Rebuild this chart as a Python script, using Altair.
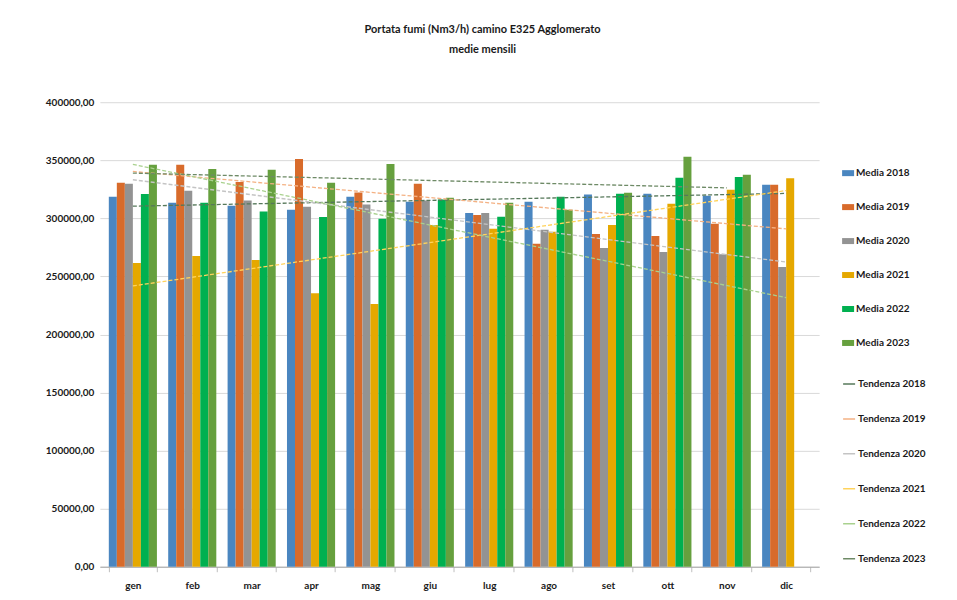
import altair as alt
import pandas as pd

months = ["gen", "feb", "mar", "apr", "mag", "giu", "lug", "ago", "set", "ott", "nov", "dic"]
years = ["2018", "2019", "2020", "2021", "2022", "2023"]

v2018 = [318500, 313400, 310800, 307400, 318500, 314200, 304500, 314200, 320600, 321200, 319500, 328900]
v2019 = [330600, 346100, 331400, 351200, 322300, 329700, 302800, 278100, 286500, 284700, 295300, 328900]
v2020 = [329700, 323700, 315400, 309900, 312000, 315400, 304500, 290200, 274400, 271000, 269000, 258100]
v2021 = [261500, 267500, 264100, 235400, 226200, 294200, 291000, 288500, 294200, 312600, 324600, 334600]
v2022 = [320900, 313400, 306000, 301100, 299600, 316300, 301400, 318500, 321200, 334900, 335700, 0]
v2023 = [346100, 342400, 341800, 330600, 346700, 317700, 313400, 307400, 322000, 353000, 337500, None]

series_values = [v2018, v2019, v2020, v2021, v2022, v2023]

bar_labels = ["Media " + y for y in years]
trend_labels = ["Tendenza " + y for y in years]
bar_colors = ["#4A86C0", "#D86B2B", "#939393", "#E5A800", "#00B050", "#66A03E"]
trend_colors = ["#56785A", "#F4B183", "#C4C4C4", "#FFD35C", "#A9D18E", "#6E8A66"]

rows = []
for y, vals in zip(years, series_values):
    for i, (m, v) in enumerate(zip(months, vals)):
        rows.append({"month": m, "idx": i + 1, "year": y,
                     "serie": "Media " + y, "trend": "Tendenza " + y, "value": v})
df = pd.DataFrame(rows)

FONT = "Lato, sans-serif"
month_expr = "[" + ",".join("'" + m + "'" for m in months) + "][datum.idx - 1]"

bars = alt.Chart(df).transform_filter("isValid(datum.value)").mark_bar().encode(
    x=alt.X("month:N", sort=months, title=None,
            scale=alt.Scale(paddingInner=0.19, paddingOuter=0.15),
            axis=alt.Axis(tickBand="extent", ticks=True, tickSize=5, tickColor="#BFBFBF",
                          domainColor="#A6A6A6", labelPadding=9, labelAngle=0, grid=False)),
    xOffset=alt.XOffset("serie:N", sort=bar_labels,
                        scale=alt.Scale(domain=bar_labels, paddingInner=0, paddingOuter=0)),
    y=alt.Y("value:Q", title=None,
            scale=alt.Scale(domain=[0, 400000], nice=False),
            axis=alt.Axis(values=[0, 50000, 100000, 150000, 200000, 250000, 300000, 350000, 400000],
                          labelExpr="replace(format(datum.value, '.2f'), '.', ',')",
                          ticks=False, domain=False, labelPadding=6,
                          gridColor="#D9D9D9", gridWidth=1)),
    color=alt.Color("serie:N", sort=bar_labels,
                    scale=alt.Scale(domain=bar_labels, range=bar_colors),
                    legend=alt.Legend(title=None, orient="none", legendX=743, legendY=65,
                                      symbolType="M-1,-0.5H1V0.5H-1Z", symbolSize=144,
                                      symbolStrokeWidth=0, rowPadding=23)),
)

lines = alt.Chart(df).transform_filter("isValid(datum.value)").transform_regression(
    "idx", "value", groupby=["trend"]
).transform_calculate(month=month_expr).mark_line(strokeWidth=1.3, strokeDash=[4, 2]).encode(
    x=alt.X("month:N", sort=months),
    y=alt.Y("value:Q"),
    stroke=alt.Stroke("trend:N", sort=trend_labels,
                      scale=alt.Scale(domain=trend_labels, range=trend_colors),
                      legend=alt.Legend(title=None, orient="none", legendX=743, legendY=275,
                                        symbolType="stroke", symbolSize=144,
                                        symbolStrokeWidth=1.5, symbolDash=[1, 0], rowPadding=23)),
)

chart = alt.layer(bars, lines).resolve_scale(color="independent").properties(
    width=720,
    height=465,
    autosize="none",
    padding={"left": 92, "top": 94, "right": 130, "bottom": 40},
    title=alt.Title(["Portata fumi (Nm3/h) camino E325 Agglomerato", "medie mensili"],
                    font=FONT, fontSize=11, fontWeight="bold", color="#1a1a1a",
                    lineHeight=20, offset=42, dx=23, anchor="middle"),
).configure_view(stroke=None).configure_axis(
    labelFont=FONT, labelFontSize=10, labelFontWeight="bold", labelColor="#1a1a1a"
).configure_legend(
    labelFont=FONT, labelFontSize=10, labelFontWeight="bold", labelColor="#1a1a1a",
    labelOffset=2
)

chart.save("out.html", embed_options={"renderer": "svg", "actions": False})
